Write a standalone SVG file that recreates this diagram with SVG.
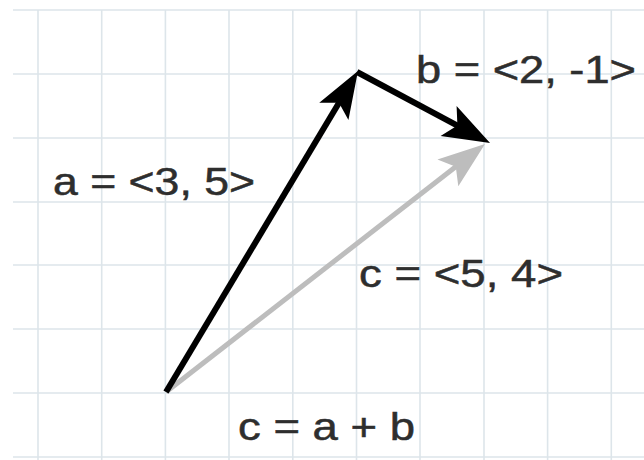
<svg xmlns="http://www.w3.org/2000/svg" width="644" height="460" viewBox="0 0 644 460">
<style>
.grid line{stroke:#dde5ea;stroke-width:1.6}
.lbl{font-family:"Liberation Sans",Arial,sans-serif;font-size:38px;fill:#2e2e2e;stroke:#2e2e2e;stroke-width:0.5}
.vec{stroke:#000;stroke-width:6;fill:none}
.vecg{stroke:#bdbdbd;stroke-width:5;fill:none}
</style>
<defs>
<marker id="ah" markerUnits="userSpaceOnUse" markerWidth="60" markerHeight="40" refX="0" refY="0" orient="auto" overflow="visible">
<path d="M20,0 L-27,-17 L-17,0 L-27,17 Z" fill="#000"/>
</marker>
<marker id="ahg" markerUnits="userSpaceOnUse" markerWidth="60" markerHeight="40" refX="0" refY="0" orient="auto" overflow="visible">
<path d="M20,0 L-27,-17 L-17,0 L-27,17 Z" fill="#bdbdbd"/>
</marker>
</defs>
<rect width="644" height="460" fill="#fff"/>
<g class="grid">
<line x1="38" y1="10" x2="38" y2="460"/>
<line x1="101.7" y1="10" x2="101.7" y2="460"/>
<line x1="165.4" y1="10" x2="165.4" y2="460"/>
<line x1="229" y1="10" x2="229" y2="460"/>
<line x1="292.8" y1="10" x2="292.8" y2="460"/>
<line x1="356.5" y1="10" x2="356.5" y2="460"/>
<line x1="420" y1="10" x2="420" y2="460"/>
<line x1="484" y1="10" x2="484" y2="460"/>
<line x1="547.6" y1="10" x2="547.6" y2="460"/>
<line x1="611.3" y1="10" x2="611.3" y2="460"/>
<line x1="13" y1="10" x2="644" y2="10"/>
<line x1="13" y1="74" x2="644" y2="74"/>
<line x1="13" y1="138" x2="644" y2="138"/>
<line x1="13" y1="202" x2="644" y2="202"/>
<line x1="13" y1="265" x2="644" y2="265"/>
<line x1="13" y1="329" x2="644" y2="329"/>
<line x1="13" y1="393" x2="644" y2="393"/>
<line x1="13" y1="457" x2="644" y2="457"/>
</g>
<g id="connectors">
<line id="vec-c" class="vecg" x1="166" y1="392" x2="469.2" y2="156.3" marker-end="url(#ahg)"/>
<line id="vec-a" class="vec" x1="166" y1="392" x2="347.7" y2="88.2" marker-end="url(#ah)"/>
<line id="vec-b" class="vec" x1="357" y1="72" x2="472.4" y2="133.6" marker-end="url(#ah)"/>
</g>
<g id="label-a"><text class="lbl" x="53" y="195" textLength="202" lengthAdjust="spacingAndGlyphs">a = &lt;3, 5&gt;</text></g>
<g id="label-b"><text class="lbl" x="416" y="83" textLength="220" lengthAdjust="spacingAndGlyphs">b = &lt;2, -1&gt;</text></g>
<g id="label-c"><text class="lbl" x="359" y="287" textLength="204" lengthAdjust="spacingAndGlyphs">c = &lt;5, 4&gt;</text></g>
<g id="label-sum"><text class="lbl" x="238" y="440" textLength="177" lengthAdjust="spacingAndGlyphs">c = a + b</text></g>
</svg>
